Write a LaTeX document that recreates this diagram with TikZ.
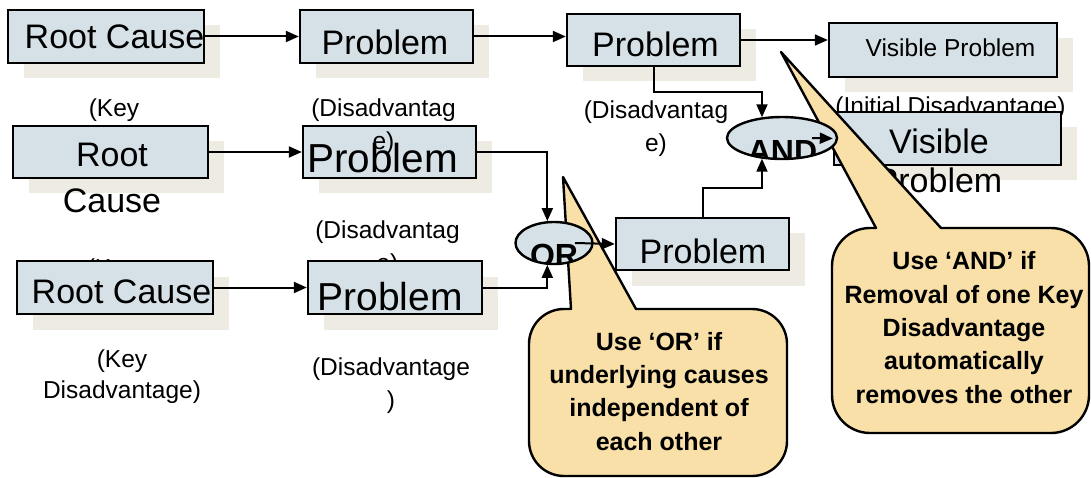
\documentclass[tikz,border=0pt]{standalone}
\usepackage{fontspec}
\setmainfont{Liberation Sans}
\usetikzlibrary{arrows.meta}
\usetikzlibrary{shapes.geometric, shadows}
\definecolor{boxBlue}{RGB}{213,225,230}
\definecolor{shadowBeige}{RGB}{238,235,227}
\definecolor{noteYellow}{RGB}{248,224,168}

\begin{document}
\begin{tikzpicture}[x=1pt,y=-1pt]
            \tikzstyle{myBox}=[rectangle,draw,line width=2.4pt,fill=boxBlue,inner sep=0pt,minimum height=53pt,
                               drop shadow={shadow xshift=16pt,shadow yshift=-15.5pt,fill=shadowBeige,opacity=1}];
            \tikzstyle{myOval}=[ellipse,draw,line width=2.4pt,fill=boxBlue,inner sep=0pt,minimum height=42pt];
            \tikzstyle{myBig}=[anchor=base,inner sep=0pt,align=center,font=\fontsize{34}{39}\selectfont];
            \tikzstyle{myLbl}=[anchor=base,inner sep=0pt,align=center,font=\fontsize{24.5}{33}\selectfont];
            \tikzstyle{myGate}=[anchor=base,inner sep=0pt,font=\bfseries\fontsize{32}{36}\selectfont];
            \tikzstyle{myNote}=[draw,line width=2.4pt,fill=noteYellow,line join=round];
            \tikzstyle{myNoteTxt}=[anchor=base,inner sep=0pt,align=center,font=\bfseries\fontsize{25}{33.3}\selectfont];
            \tikzstyle{myArr}=[line width=2pt,-{Triangle[length=13pt,width=11pt]}];
            \useasboundingbox (0,0) rectangle (1091,478);

            % labels that sit under the boxes (base = last line)
            \node[myLbl] (kRC1) at (114,150) {(Key\\Disadvantage)};
            \node[myLbl] (kRC2) at (112,309) {(Key\\Disadvantage)};
            \node[myLbl] (dPb) at (387.5,271) {(Disadvantag\\e)};
            \node[myLbl] (iVP) at (950.5,115) {(Initial Disadvantage)};

            % boxes
            \node[myBox,minimum width=196pt] (RC1) at (106,36.5) {};
            \node[myBox,minimum width=173pt] (P1) at (386.5,36.5) {};
            \node[myBox,minimum width=173pt,minimum height=52pt] (P2) at (653.5,40) {};
            \node[myBox,minimum width=228pt,minimum height=54pt] (VP) at (943,50) {};
            \node[myBox,minimum width=195pt,minimum height=52pt] (RC2) at (110.5,152) {};
            \node[myBox,minimum width=173pt,minimum height=52pt] (Pb) at (389.5,152) {};
            \node[myBox,minimum width=227pt] (VP2) at (947.5,138.5) {};
            \node[myBox,minimum width=196pt] (RC3) at (115,287.5) {};
            \node[myBox,minimum width=174pt] (P3) at (395,287.5) {};
            \node[myBox,minimum width=173pt,minimum height=52pt] (P4) at (702.5,244) {};

            % box texts
            \node[myBig] (tRC1) at (114.5,49) {Root Cause};
            \node[myBig] (tP1) at (385,55) {Problem};
            \node[myBig] (tP2) at (655.5,57) {Problem};
            \node[myBig,font=\fontsize{24.5}{30}\selectfont] (tVP) at (950.5,57) {Visible Problem};
            \node[myBig,font=\fontsize{34}{46}\selectfont] (tRC2) at (112,213) {Root\\Cause};
            \node[myBig,font=\fontsize{40.5}{46}\selectfont] (tPb) at (382.5,173) {Problem};
            \node[myBig] (tVP2) at (939,193) {Visible\\Problem};
            \node[myBig] (tRC3) at (121.5,303) {Root Cause};
            \node[myBig,font=\fontsize{39}{46}\selectfont] (tP3) at (390,310) {Problem};
            \node[myBig] (tP4) at (703,263) {Problem};

            % labels on top
            \node[myLbl] (dP1) at (383.5,150) {(Disadvantag\\e)};
            \node[myLbl] (dP2) at (656,152) {(Disadvantag\\e)};
            \node[myLbl,font=\fontsize{24.5}{31}\selectfont] (kRC3) at (122,398) {(Key\\Disadvantage)};
            \node[myLbl] (dP3) at (391,408) {(Disadvantage\\)};

            % callouts
            \draw[myNote] (571,309) -- (563,177) -- (636,309) -- (752,309)
                  arc[start angle=-90,end angle=0,radius=35] -- (787,441)
                  arc[start angle=0,end angle=90,radius=35] -- (564,476)
                  arc[start angle=90,end angle=180,radius=35] -- (529,344)
                  arc[start angle=180,end angle=270,radius=35] -- cycle;
            \draw[myNote] (876,228) -- (781,52) -- (941,228) -- (1051,228)
                  arc[start angle=-90,end angle=0,radius=38] -- (1089,395)
                  arc[start angle=0,end angle=90,radius=38] -- (870,433)
                  arc[start angle=90,end angle=180,radius=38] -- (832,266)
                  arc[start angle=180,end angle=270,radius=38] -- cycle;
            \node[myNoteTxt] (nOR) at (659,450) {Use ‘OR’ if\\underlying causes\\independent of\\each other};
            \node[myNoteTxt] (nAND) at (964,403) {Use ‘AND’ if\\Removal of one Key\\Disadvantage\\automatically\\removes the other};

            % gates
            \node[myOval,minimum width=77pt] (OR) at (554,243) {};
            \node[myOval,minimum width=110pt] (AND) at (782,138) {};
            \begin{scope}
              \clip (OR.center) ellipse [x radius=37.5, y radius=20];
              \node[myGate] (tOR) at (554,266) {OR};
            \end{scope}
            \begin{scope}
              \clip (AND.center) ellipse [x radius=54, y radius=20];
              \node[myGate] (tAND) at (782.5,163) {AND};
            \end{scope}

            % connectors
            \draw[myArr] (RC1.east) -- (RC1.east -| P1.west);
            \draw[myArr] (P1.east) -- (P1.east -| P2.west);
            \draw[myArr] (P2.east) -- (P2.east -| VP.west);
            \draw[myArr] (RC2.east) -- (RC2.east -| Pb.west);
            \draw[myArr] (RC3.east) -- (RC3.east -| P3.west);
            \draw[myArr] (Pb.east) -| (OR.107);
            \draw[myArr] (P3.east) -| (OR.253);
            \draw[myArr] ([xshift=21pt]OR.center) -- (P4.west);
            \draw[myArr] (P2.south) -- ++(0,25) -| (AND.134);
            \draw[myArr] (P4.north) -- ++(0,-29) -| (AND.226);
            \draw[myArr] ([xshift=30pt]AND.center) -- (VP2.west);
\end{tikzpicture}
\end{document}
